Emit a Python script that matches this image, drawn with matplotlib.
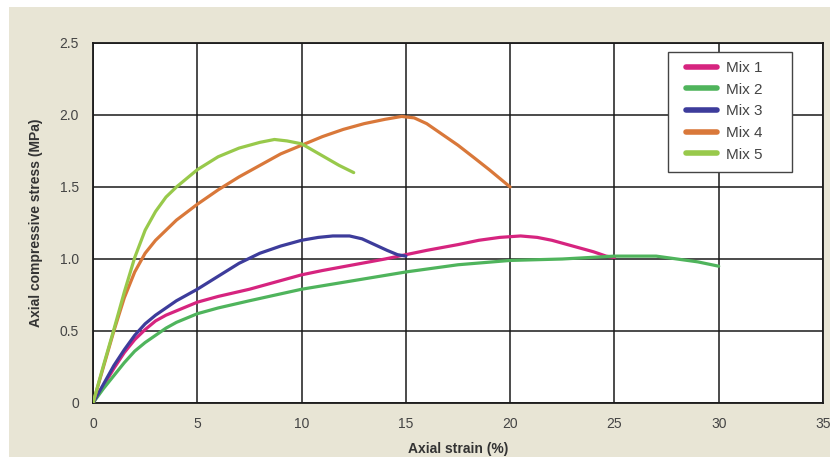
import matplotlib
matplotlib.use("Agg")
import matplotlib.pyplot as plt
from matplotlib.patches import Rectangle

plt.rcParams['font.family'] = ['Liberation Sans', 'DejaVu Sans']

mix1_x = [0, 0.5, 1, 1.5, 2, 2.5, 3, 3.5, 4, 5, 6, 7.5, 9, 10, 11, 12.5, 14, 15, 16, 17.5, 18.5, 19.5, 20.5, 21.3, 22, 23, 24, 24.6, 25]
mix1_y = [0, 0.12, 0.24, 0.35, 0.44, 0.51, 0.57, 0.61, 0.64, 0.70, 0.74, 0.79, 0.85, 0.89, 0.92, 0.96, 1.00, 1.03, 1.06, 1.10, 1.13, 1.15, 1.16, 1.15, 1.13, 1.09, 1.05, 1.02, 1.01]

mix2_x = [0, 0.5, 1, 1.5, 2, 2.5, 3, 3.5, 4, 5, 6, 7.5, 10, 12.5, 15, 17.5, 20, 22.5, 25, 26, 27, 28, 29, 30]
mix2_y = [0, 0.10, 0.19, 0.28, 0.36, 0.42, 0.47, 0.52, 0.56, 0.62, 0.66, 0.71, 0.79, 0.85, 0.91, 0.96, 0.99, 1.00, 1.02, 1.02, 1.02, 1.00, 0.98, 0.95]

mix3_x = [0, 0.5, 1, 1.5, 2, 2.5, 3, 3.5, 4, 5, 6, 7, 8, 9, 10, 10.8, 11.5, 12.3, 12.9, 13.5, 14.1, 14.6, 15]
mix3_y = [0, 0.13, 0.26, 0.37, 0.47, 0.55, 0.61, 0.66, 0.71, 0.79, 0.88, 0.97, 1.04, 1.09, 1.13, 1.15, 1.16, 1.16, 1.14, 1.10, 1.06, 1.03, 1.02]

mix4_x = [0, 0.5, 1, 1.5, 2, 2.5, 3, 3.5, 4, 5, 6, 7, 8, 9, 10, 11, 12, 13, 14, 14.8, 15.4, 16, 16.7, 17.5, 18.3, 19, 19.5, 20]
mix4_y = [0, 0.25, 0.50, 0.73, 0.91, 1.04, 1.13, 1.20, 1.27, 1.38, 1.48, 1.57, 1.65, 1.73, 1.79, 1.85, 1.90, 1.94, 1.97, 1.99, 1.98, 1.94, 1.87, 1.79, 1.70, 1.62, 1.56, 1.50]

mix5_x = [0, 0.5, 1, 1.5, 2, 2.5, 3, 3.5, 4, 5, 6, 7, 8, 8.7, 9.3, 10, 10.6, 11.2, 11.8, 12.5]
mix5_y = [0, 0.26, 0.51, 0.77, 1.01, 1.20, 1.33, 1.43, 1.50, 1.62, 1.71, 1.77, 1.81, 1.83, 1.82, 1.80, 1.75, 1.70, 1.65, 1.60]

labels = ['Mix 1', 'Mix 2', 'Mix 3', 'Mix 4', 'Mix 5']
colors = ['#d6247f', '#4fb45c', '#3d3c9b', '#d9783a', '#98c94b']

x_ticks = [0, 5, 10, 15, 20, 25, 30, 35]
y_ticks = [0, 0.5, 1.0, 1.5, 2.0, 2.5]
y_ticklabels = ['0', '0.5', '1.0', '1.5', '2.0', '2.5']

fig = plt.figure(figsize=(8.33, 4.57), dpi=100, facecolor='white')
fig.patches.append(Rectangle((9/833, 0), 1 - 12/833, 1 - 7/457, transform=fig.transFigure,
                             facecolor='#e8e5d5', edgecolor='none', zorder=-10))

ax = fig.add_axes([93/833, 1 - 403/457, 730/833, 360/457])
ax.set_facecolor('white')

series = [(mix1_x, mix1_y), (mix2_x, mix2_y), (mix3_x, mix3_y), (mix4_x, mix4_y), (mix5_x, mix5_y)]
for (xs, ys), lab, c in zip(series, labels, colors):
    ax.plot(xs, ys, color=c, lw=2.3, label=lab, solid_capstyle='round',
            solid_joinstyle='round', zorder=3)

ax.set_xlim(0, 35)
ax.set_ylim(0, 2.5)
ax.set_xticks(x_ticks)
ax.set_yticks(y_ticks)
ax.set_yticklabels(y_ticklabels)
ax.grid(True, color='#1a1a1a', lw=1.1, zorder=1)
ax.set_axisbelow(True)
for s in ax.spines.values():
    s.set_color('#1a1a1a')
    s.set_linewidth(1.3)
ax.tick_params(length=0, labelsize=10, colors='#444444', pad=10)

ax.set_xlabel('Axial strain (%)', fontsize=10, fontweight='bold', color='#333333', labelpad=8)
ax.set_ylabel('Axial compressive stress (MPa)', fontsize=10, fontweight='bold', color='#333333', labelpad=12)

# legend frame
bx0, bx1 = (668 - 93) / 730, (792 - 93) / 730
by0, by1 = (403 - 172) / 360, (403 - 52) / 360
ax.add_patch(Rectangle((bx0, by0), bx1 - bx0, by1 - by0, transform=ax.transAxes,
                       facecolor='white', edgecolor='#444444', lw=1.0, zorder=5, clip_on=False))

leg = ax.legend(loc='upper left', bbox_to_anchor=((686 - 93) / 730, (403 - 61) / 360),
                frameon=False, fontsize=11, handlelength=2.0, handletextpad=0.65,
                borderpad=0, labelspacing=0.5, borderaxespad=0)
leg.set_zorder(6)
for line in leg.get_lines():
    line.set_linewidth(4)
for t in leg.get_texts():
    t.set_color('#444444')

fig.savefig('out.png', dpi=100, facecolor=fig.get_facecolor())
